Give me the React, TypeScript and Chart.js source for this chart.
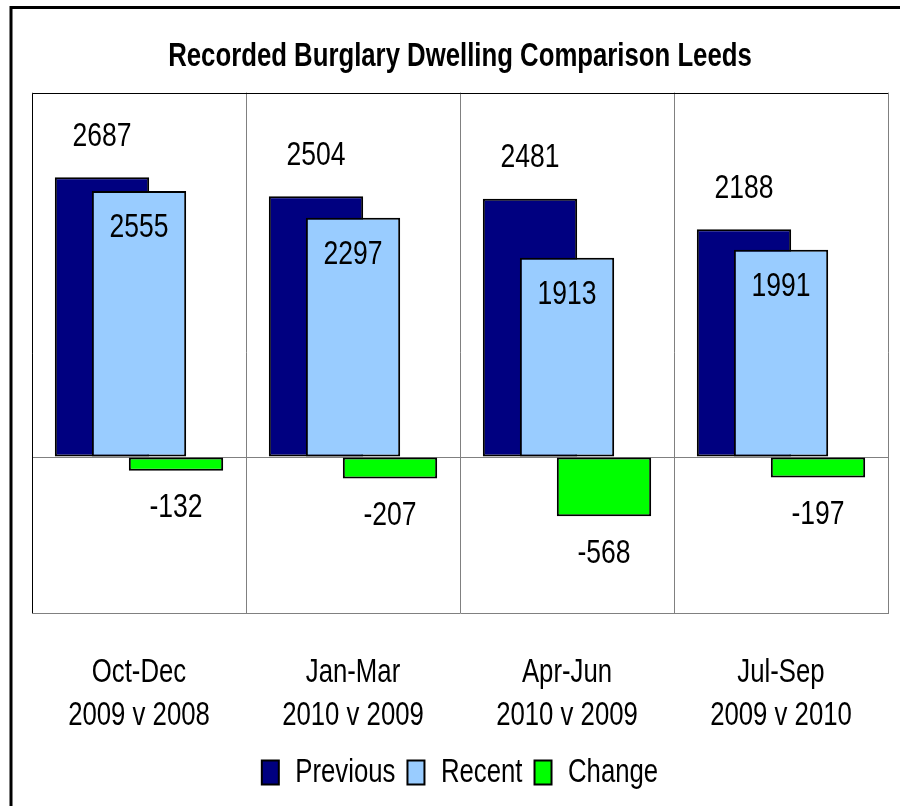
import React, { useEffect, useRef } from 'react';
import { Chart, registerables } from 'chart.js';

Chart.register(...registerables);

// ---- data ----
const categories: string[][] = [
  ['Oct-Dec', '2009 v 2008'],
  ['Jan-Mar', '2010 v 2009'],
  ['Apr-Jun', '2010 v 2009'],
  ['Jul-Sep', '2009 v 2010'],
];
const seriesNames = ['Previous', 'Recent', 'Change'];
const previousValues = [2687, 2504, 2481, 2188];
const recentValues = [2555, 2297, 1913, 1991];
const changeValues = [-132, -207, -568, -197];
const titleText = 'Recorded Burglary Dwelling Comparison Leeds';
const yMin = -1500;
const yMax = 3500;
const yStep = 500;

// ---- styles ----
const FONT = "'Liberation Sans', Arial, sans-serif";
const SX = 0.78; // horizontal condensing of all text (narrow face look)
const seriesColors = ['#000080', '#99CCFF', '#00FF00'];
const labelOffsets = [-41, 37, 37];

function condenseText(ctx: any) {
  if (ctx.__condensed) return;
  ctx.__condensed = true;
  const origFill = ctx.fillText.bind(ctx);
  const origMeasure = ctx.measureText.bind(ctx);
  ctx.fillText = (text: string, x: number, y: number, maxWidth?: number) => {
    ctx.save();
    ctx.translate(x, y);
    ctx.scale(SX, 1);
    if (maxWidth !== undefined && maxWidth !== null) origFill(text, 0, 0, maxWidth / SX);
    else origFill(text, 0, 0);
    ctx.restore();
  };
  ctx.measureText = (text: string) => {
    const m = origMeasure(text);
    return {
      width: m.width * SX,
      actualBoundingBoxAscent: m.actualBoundingBoxAscent,
      actualBoundingBoxDescent: m.actualBoundingBoxDescent,
      actualBoundingBoxLeft: m.actualBoundingBoxLeft * SX,
      actualBoundingBoxRight: m.actualBoundingBoxRight * SX,
      fontBoundingBoxAscent: m.fontBoundingBoxAscent,
      fontBoundingBoxDescent: m.fontBoundingBoxDescent,
    };
  };
}

const drawOrderPlugin = {
  id: 'drawOrder',
  beforeDatasetsDraw(chart: any) {
    const ctx = chart.ctx;
    const a = chart.chartArea;
    // plot-area top & left border
    ctx.save();
    ctx.strokeStyle = '#000';
    ctx.lineWidth = 1;
    ctx.beginPath();
    ctx.moveTo(Math.round(a.left) + 0.5, Math.round(a.bottom));
    ctx.lineTo(Math.round(a.left) + 0.5, Math.round(a.top) + 0.5);
    ctx.lineTo(Math.round(a.right), Math.round(a.top) + 0.5);
    ctx.stroke();
    ctx.restore();
    // draw datasets in index order so later series sit on top
    const metas = chart.getSortedVisibleDatasetMetas();
    ctx.save();
    for (const m of metas) m.controller.draw();
    ctx.restore();
    return false;
  },
  afterDraw(chart: any) {
    const ctx = chart.ctx;
    ctx.save();
    // outer frame
    ctx.strokeStyle = '#000';
    ctx.lineWidth = 3;
    ctx.beginPath();
    ctx.moveTo(11, 820);
    ctx.lineTo(11, 7.5);
    ctx.lineTo(920, 7.5);
    ctx.stroke();
    // data labels
    ctx.fillStyle = '#000';
    ctx.font = `34px ${FONT}`;
    ctx.textAlign = 'center';
    ctx.textBaseline = 'middle';
    chart.data.datasets.forEach((ds: any, i: number) => {
      const meta = chart.getDatasetMeta(i);
      meta.data.forEach((el: any, j: number) => {
        ctx.fillText(String(ds.data[j]), el.x, el.y + labelOffsets[i]);
      });
    });
    ctx.restore();
  },
};

export default function App() {
  const ref = useRef<HTMLCanvasElement | null>(null);
  useEffect(() => {
    if (!ref.current) return;
    const ctx = ref.current.getContext('2d');
    condenseText(ctx);
    const tickSize = 33;
    const tickLH = 1.3;
    const tickPad = 38;
    const chart = new Chart(ref.current, {
      type: 'bar',
      data: {
        labels: categories,
        datasets: [previousValues, recentValues, changeValues].map((vals, i) => ({
          label: seriesNames[i],
          data: vals,
          backgroundColor: seriesColors[i],
          borderColor: '#000',
          borderWidth: 2,
          borderSkipped: false,
          categoryPercentage: 0.5187,
          barPercentage: 2.55,
        })),
      },
      options: {
        animation: false,
        responsive: false,
        layout: { padding: { left: 32, right: 12, top: 0, bottom: 7 } },
        scales: {
          x: {
            grid: { color: '#808080', drawTicks: false, offset: true },
            border: { color: '#808080' },
            ticks: {
              color: '#000',
              padding: tickPad,
              font: { family: FONT, size: tickSize, lineHeight: tickLH },
              maxRotation: 0,
              autoSkip: false,
            },
            afterFit: (s: any) => {
              s.height = tickPad + 2 * tickSize * tickLH + 7;
              s.paddingLeft = 0;
              s.paddingRight = 0;
            },
          },
          y: {
            min: yMin,
            max: yMax,
            ticks: { display: false, stepSize: yStep },
            border: { display: false },
            grid: {
              drawTicks: false,
              color: (c: any) => (c.tick && c.tick.value === 0 ? '#808080' : 'rgba(0,0,0,0)'),
            },
          },
        },
        plugins: {
          title: {
            display: true,
            text: titleText,
            color: '#000',
            font: { family: FONT, size: 33, weight: 'bold', lineHeight: 1.2 },
            padding: { top: 37, bottom: 16 },
          },
          legend: {
            position: 'bottom',
            labels: {
              color: '#000',
              boxWidth: 17,
              boxHeight: 24,
              padding: 12,
              font: { family: FONT, size: 33 },
            },
          },
          tooltip: { enabled: false },
        },
      },
      plugins: [drawOrderPlugin],
    } as any);
    return () => chart.destroy();
  }, []);
  return (
    <div style={{ position: 'fixed', left: 0, top: 0, width: 900, height: 806, background: '#fff' }}>
      <canvas ref={ref} width={900} height={806} />
    </div>
  );
}
